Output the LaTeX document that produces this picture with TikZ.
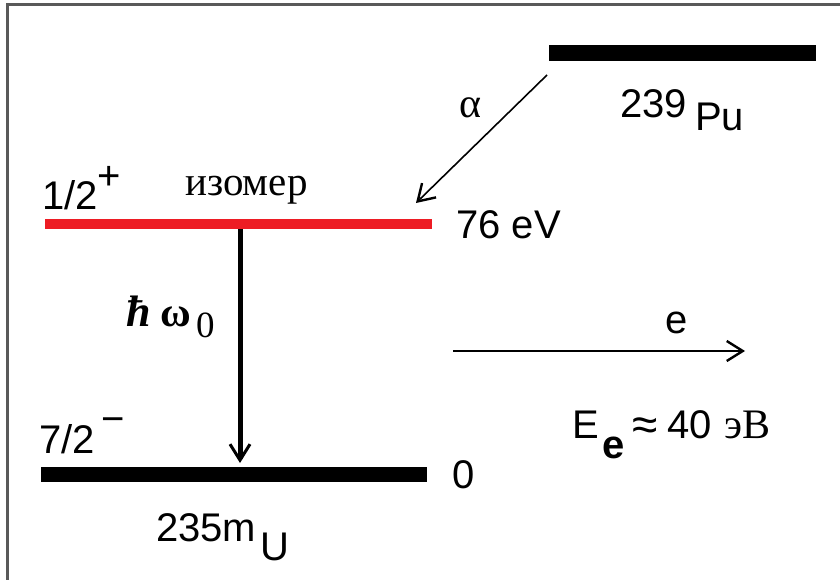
\documentclass[tikz,border=0pt]{standalone}
\usepackage{fontspec}
\setmainfont{Liberation Sans}
\newfontfamily\rmserif{Liberation Serif}
\usetikzlibrary{arrows.meta}
\definecolor{isored}{RGB}{237,28,36}

\begin{document}
\begin{tikzpicture}[
  x=1pt, y=-1pt,
  font=\fontsize{40}{42}\selectfont,
  lvl/.style={fill=black, inner sep=0, outer sep=0},
  lbl/.style={inner sep=0, anchor=base west},
  thin/.style={->, line width=1.6pt, >={Straight Barb[length=16pt, width=20pt, line width=2.4pt]}},
  gamma/.style={->, line width=5pt, >={Straight Barb[length=16pt, width=20pt, line width=3pt]}}
]
\useasboundingbox (0,0) rectangle (840,580);
% frame, only top and left are visible
\draw[gray!70!black, line width=3pt] (7,580) -- (7,5) -- (840,5);

% levels
\node[lvl, minimum width=267pt, minimum height=16pt] (pu) at (682.5,53) {};
\node[lvl, fill=isored, minimum width=387pt, minimum height=10pt] (iso) at (238.5,224) {};
\node[lvl, minimum width=386pt, minimum height=15pt] (gs) at (234,474.5) {};

% transitions
\coordinate (a1) at (547,75);
\coordinate (a2) at (416,203);
\draw[thin] (a1) -- (a2);
\coordinate (g1) at (240,229);
\coordinate (g2) at (240,463);
\draw[gamma] (g1) -- (g2);
\coordinate (e1) at (453,351);
\coordinate (e2) at (745,351);
\draw[thin, line width=1.2pt] (e1) -- (e2);

% labels
\node[lbl] (alpha) at (459,118) {\fontsize{42}{42}\rmserif α};
\node[lbl] (pun) at (620,118) {239};
\node[lbl] (pus) at (695,131) {Pu};
\node[lbl] (spin1) at (42,210) {1/2};
\node (par1) at (109,178) {+};
\node[lbl] (isot) at (185,196) {\fontsize{41}{41}\rmserif изомер};
\node[lbl] (en1) at (456,238) {76 eV};
\node[lbl] (hb) at (126,326) {\fontsize{44}{44}\rmserif\bfseries\itshape ħ};
\node[lbl] (om) at (160,326) {\fontsize{42}{42}\rmserif\bfseries ω};
\node[lbl] (om0) at (196,337) {\fontsize{37}{37}\rmserif 0};
\node[lbl] (el) at (665,333) {e};
\node[lbl] (ee) at (572,438) {E};
\node[lbl] (esub) at (602,458) {\bfseries e};
\node[lbl] (apx) at (632,440) {\fontsize{46}{46}\selectfont ≈};
\node[lbl] (ev) at (667,438) {40};
\node[lbl] (evu) at (724,438) {\fontsize{42}{42}\rmserif эВ};
\node[lbl] (spin2) at (39,453) {7/2};
\node (par2) at (113,425.5) {−};
\node[lbl] (en0) at (452,488) {0};
\node[lbl] (un) at (156,541) {235m};
\node[lbl] (us) at (260,560) {U};
\end{tikzpicture}
\end{document}
